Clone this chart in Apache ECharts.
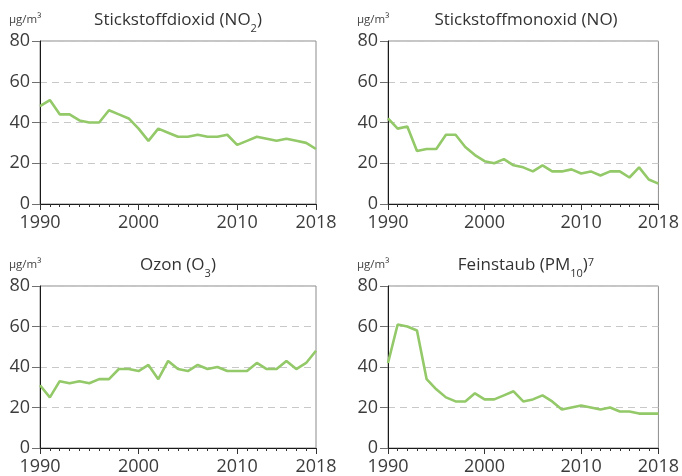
<!DOCTYPE html>
<html>
<head>
<meta charset="utf-8">
<script src="https://cdn.jsdelivr.net/npm/echarts@6/dist/echarts.min.js"></script>
<style>
html,body{margin:0;padding:0;background:#fff;}
#chart{width:682px;height:476px;}
</style>
</head>
<body>
<div id="chart"></div>
<script>
var years = [1990,1991,1992,1993,1994,1995,1996,1997,1998,1999,2000,2001,2002,2003,2004,2005,2006,2007,2008,2009,2010,2011,2012,2013,2014,2015,2016,2017,2018];
var no2  = [48,51,44,44,41,40,40,46,44,42,37,31,37,35,33,33,34,33,33,34,29,31,33,32,31,32,31,30,27];
var no   = [42,37,38,26,27,27,34,34,28,24,21,20,22,19,18,16,19,16,16,17,15,16,14,16,16,13,18,12,10];
var o3   = [31,25,33,32,33,32,34,34,39,39,38,41,34,43,39,38,41,39,40,38,38,38,42,39,39,43,39,42,48];
var pm10 = [42,61,60,58,34,29,25,23,23,27,24,24,26,28,23,24,26,23,19,20,21,20,19,20,18,18,17,17,17];
var yTicks = [0,20,40,60,80];
var xLabels = [1990,2000,2010,2018];
var unit = 'µg/m³';
var titles = [
  '{a|Stickstoffdioxid (NO}{s|2}{a|)}',
  '{a|Stickstoffmonoxid (NO)}',
  '{a|Ozon (O}{s|3}{a|)}',
  '{a|Feinstaub (PM}{s|10}{a|)}{p|7}'
];
var seriesData = [no2, no, o3, pm10];

var FONT = '"Open Sans", "Noto Sans", sans-serif';
var LINE = '#93c968';
var grids = [
  {left:40, top:41, width:276, height:163},
  {left:388, top:41, width:276, height:163},
  {left:40, top:286, width:276, height:163},
  {left:388, top:286, width:276, height:163}
];

var option = {
  animation:false,
  backgroundColor:'#fff',
  title:[], grid:[], xAxis:[], yAxis:[], series:[]
};
var richStyle = {
  a:{fontSize:17, color:'#333', fontFamily:FONT, lineHeight:22},
  s:{fontSize:11, color:'#333', fontFamily:FONT, lineHeight:11, verticalAlign:'bottom', padding:[0,0,-3,0]},
  p:{fontSize:11, color:'#333', fontFamily:FONT, lineHeight:11, verticalAlign:'top', padding:[3,0,0,0]}
};
grids.forEach(function(g, i){
  option.grid.push({left:g.left, top:g.top, width:g.width, height:g.height, show:true, borderColor:'#8c8c8c', borderWidth:1, containLabel:false});
  option.title.push({
    text:titles[i], left:g.left + g.width/2, top:g.top - 32, textAlign:'center', padding:0,
    textStyle:{rich:richStyle, fontFamily:FONT, fontSize:17, fontWeight:'normal', color:'#333'}
  });
  option.title.push({
    text:unit, left:g.left - 31, top:g.top - 32, padding:0,
    textStyle:{fontFamily:FONT, fontSize:11.5, fontWeight:'normal', color:'#444', lineHeight:22}
  });
  option.xAxis.push({
    type:'value', gridIndex:i, min:years[0], max:years[years.length-1], interval:1, position:'bottom',
    axisLine:{show:true, onZero:false, lineStyle:{color:'#1a1a1a', width:1}},
    axisTick:{show:true, length:3, lineStyle:{color:'#333', width:1}},
    axisLabel:{show:false}, splitLine:{show:false}
  });
  option.xAxis.push({
    type:'value', gridIndex:i, min:years[0], max:years[years.length-1], interval:10, position:'bottom',
    axisLine:{show:true, onZero:false, lineStyle:{color:'#1a1a1a', width:1}},
    axisTick:{show:true, length:6, lineStyle:{color:'#333', width:1}},
    axisLabel:{show:true, margin:10, fontSize:18, color:'#3c3c3c', fontFamily:FONT,
      formatter:function(v){ return xLabels.indexOf(v) >= 0 ? String(v) : ''; }},
    splitLine:{show:false}
  });
  option.yAxis.push({
    type:'value', gridIndex:i, min:yTicks[0], max:yTicks[yTicks.length-1], interval:20,
    axisLine:{show:true, lineStyle:{color:'#1a1a1a', width:1}},
    axisTick:{show:true, length:8, lineStyle:{color:'#707070', width:1}},
    axisLabel:{show:true, margin:10, fontSize:18, color:'#3c3c3c', fontFamily:FONT},
    splitLine:{show:true, lineStyle:{color:'#c8c8c8', width:1, type:[7,5]}}
  });
  option.series.push({
    type:'line', xAxisIndex:2*i, yAxisIndex:i, showSymbol:false, symbol:'none',
    lineStyle:{color:LINE, width:2.6}, itemStyle:{color:LINE},
    data: years.map(function(y, k){ return [y, seriesData[i][k]]; }),
    z:5
  });
});
var chart = echarts.init(document.getElementById('chart'), null, {renderer:'canvas'});
chart.setOption(option);
</script>
</body>
</html>
